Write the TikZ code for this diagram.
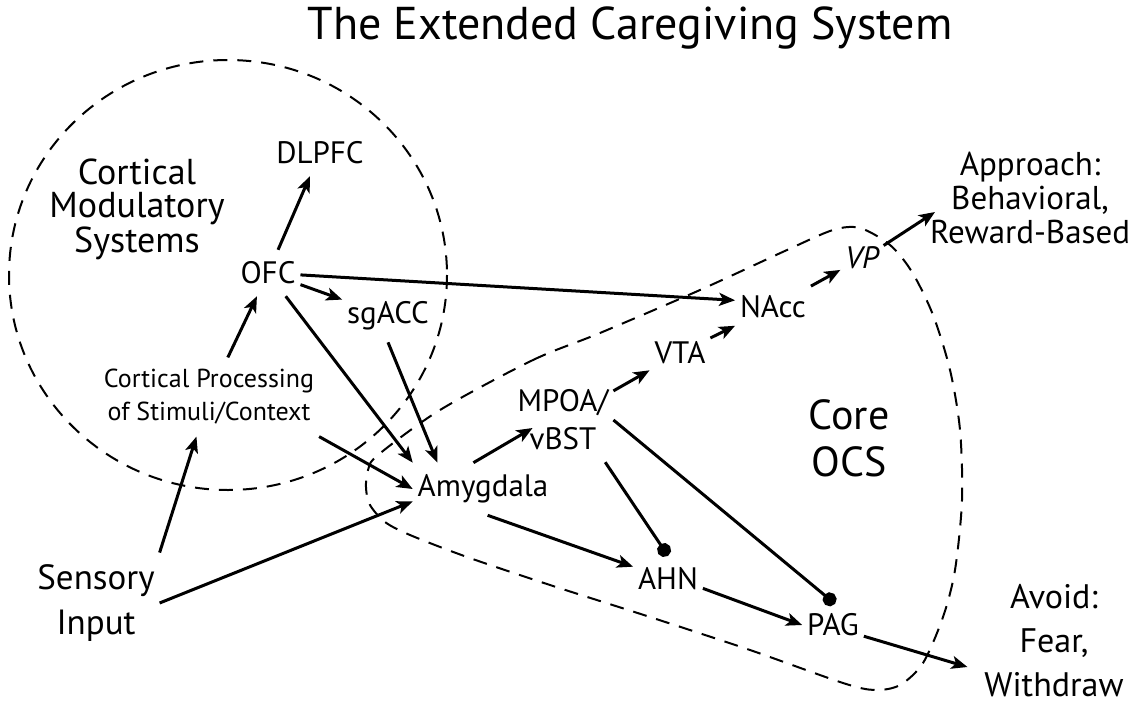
\documentclass[tikz,border=0pt]{standalone}
\usepackage{fontspec}
\setmainfont{PT Sans}
\usetikzlibrary{arrows.meta,calc}

\begin{document}
\begin{tikzpicture}[x=0.5pt,y=-0.5pt,
    lbl/.style={inner xsep=2.5pt,inner ysep=6pt,outer sep=0pt,font=\fontsize{15.5}{19}\selectfont},
    arr/.style={line width=1.5pt,-{Stealth[length=8pt,width=6.5pt,inset=2pt]}},
    dot/.style={line width=1.5pt,-{Circle[length=7pt]}},
    bound/.style={line width=1pt,dash pattern=on 7pt off 5pt}]
        \useasboundingbox (0,0) rectangle (1133,706);
        % dashed outlines
        \draw[bound] (228,275) ellipse [x radius=219, y radius=215];
        \draw[bound] plot[smooth cycle, tension=0.5] coordinates {(440,410) (533,360) (600,333) (700,290) (787,250) (833,230) (860,228) (890,245) (912,272) (933,315) (950,370) (960,430) (962,500) (955,570) (943,617) (923,663) (900,685) (875,690) (843,683) (750,650) (650,617) (550,585) (467,557) (410,535) (385,522) (370,505) (366,488) (368,470) (378,455)};
        % labels
        \node[font=\fontsize{23}{26}\selectfont] (title) at (630,28) {The Extended Caregiving System};
        \node[align=center,font=\fontsize{18}{16.5}\selectfont] (cms) at (137,209) {Cortical\\Modulatory\\Systems};
        \node[lbl] (dlpfc) at (320,153) {DLPFC};
        \node[lbl] (ofc) at (268,273) {OFC};
        \node[lbl] (sgacc) at (388,316) {sgACC};
        \node[lbl,align=center,font=\fontsize{13}{16.5}\selectfont] (cp) at (209,397) {Cortical Processing\\of Stimuli/Context};
        \node[lbl] (amyg) at (483,489) {Amygdala};
        \node[lbl,align=center] (mpoa) at (563,420) {MPOA/\\vBST};
        \node[lbl] (vta) at (680,353) {VTA};
        \node[lbl] (nacc) at (773,307) {NAcc};
        \node[lbl,font=\fontsize{15.5}{19}\selectfont\itshape] (vp) at (862,258) {VP};
        \node[lbl,align=center,font=\fontsize{16.5}{17}\selectfont] (approach) at (1030,198) {Approach:\\Behavioral,\\Reward-Based};
        \node[align=center,font=\fontsize{21}{23.5}\selectfont] (core) at (849,438) {Core\\OCS};
        \node[lbl,align=center,font=\fontsize{17.5}{22.5}\selectfont] (sensory) at (96,603) {Sensory\\Input};
        \node[lbl] (ahn) at (668,579) {AHN};
        \node[lbl] (pag) at (833,625) {PAG};
        \node[lbl,align=center,font=\fontsize{17}{22}\selectfont] (avoid) at (1054,641) {Avoid:\\Fear,\\Withdraw};
        % connections
        \draw[arr] (ofc) -- (dlpfc);
        \draw[arr] (cp) -- (ofc);
        \draw[arr] (sensory.north east) -- (cp);
        \draw[arr] (sensory.east) -- (amyg.190);
        \draw[arr] (cp.south east) -- (amyg.west);
        \draw[arr] (ofc) -- (amyg.north west);
        \draw[arr] (sgacc.south) -- (amyg.150);
        \draw[arr] (ofc) -- (sgacc);
        \draw[arr] (ofc) -- (nacc.170);
        \draw[arr] (amyg.110) -- ([shift={(20,8)}]mpoa.west);
        \draw[arr] (mpoa.30) -- (vta);
        \draw[arr] (vta) -- (nacc);
        \draw[arr] (nacc) -- (vp);
        \draw[arr] (vp.30) -- ([shift={(10,14)}]approach.west);
        \draw[dot] (mpoa.east) -- ([shift={(2,2)}]pag.north);
        \draw[dot] (mpoa.-45) -- (ahn.north);
        \draw[arr] (amyg.-80) -- (ahn);
        \draw[arr] (ahn.-15) -- (pag.west);
        \draw[arr] (pag.-20) -- ([shift={(-12,26)}]avoid.west);
\end{tikzpicture}
\end{document}
